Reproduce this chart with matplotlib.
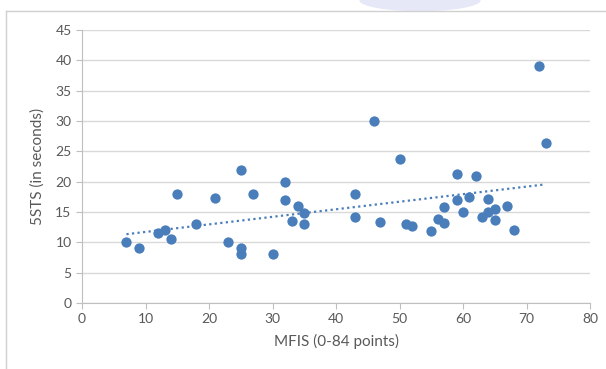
import numpy as np
import matplotlib.pyplot as plt
from matplotlib.patches import Ellipse
from matplotlib.lines import Line2D

# MFIS score vs 5STS time
mfis = [7, 9, 12, 13, 14, 15, 18, 21, 23, 25, 25, 25, 27, 30, 32, 32, 33, 34, 35, 35,
        43, 43, 46, 47, 50, 51, 52, 55, 56, 57, 57, 59, 59, 60, 61, 62, 63, 64, 64, 65,
        65, 67, 68, 72, 73]
sts = [10, 9, 11.5, 12, 10.5, 18, 13, 17.3, 10, 22, 9, 8, 18, 8, 20, 17, 13.5, 16, 14.8, 13,
       18, 14.1, 30, 13.3, 23.8, 13, 12.7, 11.8, 13.8, 15.8, 13.2, 21.2, 17, 15, 17.5, 21, 14.2, 17.1, 15, 15.5,
       13.6, 16, 12, 39, 26.4]

x_ticks = [0, 10, 20, 30, 40, 50, 60, 70, 80]
y_ticks = [0, 5, 10, 15, 20, 25, 30, 35, 40, 45]

plt.rcParams['font.family'] = ['Lato', 'DejaVu Sans']
grey = "#595959"

fig = plt.figure(figsize=(6.06, 3.69), dpi=100)

# outer frame lines and the faint shape at the top
fig.add_artist(Ellipse((420 / 606, 1.0), 120 / 606, 21 / 369, color="#e6e8f8", zorder=0))
fig.add_artist(Line2D([6 / 606, 1], [1 - 11 / 369, 1 - 11 / 369], color="#d0d0d0", lw=1))
fig.add_artist(Line2D([6 / 606, 6 / 606], [0, 1 - 11 / 369], color="#d0d0d0", lw=1))

ax = fig.add_axes([82 / 606, 66 / 369, 508 / 606, 273 / 369])
ax.scatter(mfis, sts, s=55, color="#4a7ebb", zorder=3, linewidths=0)

# linear trendline
k, b = np.polyfit(mfis, sts, 1)
xs = np.array([min(mfis), max(mfis)])
ax.plot(xs, k * xs + b, linestyle=(0, (1, 1.5)), color="#4a7ebb", lw=1.6, zorder=2)

ax.set_xlim(0, 80)
ax.set_ylim(0, 45)
ax.set_xticks(x_ticks)
ax.set_yticks(y_ticks)
ax.grid(axis="y", color="#d9d9d9", lw=1)
ax.set_axisbelow(True)
for side in ["top", "right"]:
    ax.spines[side].set_visible(False)
for side in ["left", "bottom"]:
    ax.spines[side].set_color("#bfbfbf")
ax.tick_params(colors="#bfbfbf", labelcolor=grey, labelsize=10, length=4)
ax.set_xlabel("MFIS (0-84 points)", color=grey, fontsize=11, labelpad=6)
ax.set_ylabel("5STS (in seconds)", color=grey, fontsize=11, labelpad=8)

plt.savefig("out.png", dpi=100)
